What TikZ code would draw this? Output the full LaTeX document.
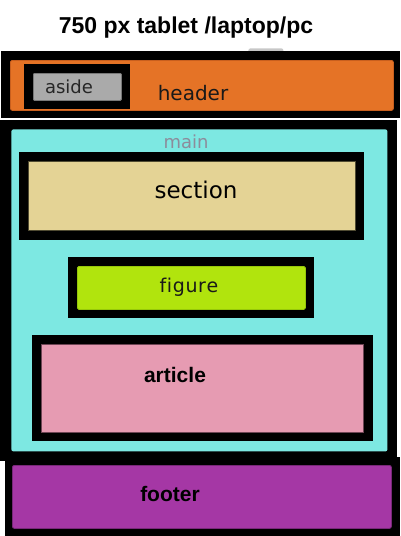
\documentclass[tikz,border=0pt]{standalone}
\usepackage{fontspec}
\setmainfont{DejaVu Sans}
\newfontfamily\arialfont{Liberation Sans}
\begin{document}
\begin{tikzpicture}[x=1pt,y=-1pt,
  blk/.style={fill=black, inner sep=0pt, anchor=north west},
  inner/.style={inner sep=0pt, anchor=north west, rounded corners=2pt, line width=0.8pt},
  lbl/.style={inner sep=0pt, anchor=base},
]
\useasboundingbox (0,0) rectangle (400,536);
% title
\node[lbl, font=\arialfont\bfseries\fontsize{23}{26}\selectfont] (title) at (186,33) {750 px tablet /laptop/pc};
% small grey tab above header
\node[inner, fill=black!22, minimum width=35pt, minimum height=5pt] (tab) at (248,48) {};
% header
\node[blk, minimum width=399pt, minimum height=67pt] (headout) at (1,51) {};
\node[inner, fill={rgb,255:red,229;green,115;blue,38}, draw={rgb,255:red,200;green,95;blue,30}, minimum width=383pt, minimum height=50pt] (head) at (10,60) {};
\node[blk, minimum width=106pt, minimum height=45pt] (asideout) at (24,64) {};
\node[inner, rounded corners=1pt, fill={rgb,255:red,170;green,170;blue,170}, draw={rgb,255:red,120;green,120;blue,120}, minimum width=88pt, minimum height=27pt] (aside) at (33,73) {};
\node[lbl, font=\fontsize{18}{20}\selectfont, text=black!85] (asidet) at (69,93) {aside};
\node[lbl, font=\fontsize{20}{22}\selectfont, text=black!90] (headt) at (193,100) {header};
% main
\node[blk, minimum width=397pt, minimum height=341pt] (mainout) at (0,120) {};
\node[inner, fill={rgb,255:red,125;green,232;blue,226}, minimum width=376pt, minimum height=322pt] (main) at (11,129) {};
\node[lbl, font=\fontsize{18}{20}\selectfont, text={rgb,255:red,140;green,140;blue,155}] (maint) at (186,148) {main};
% section
\node[blk, minimum width=345pt, minimum height=88pt] (secout) at (19,152) {};
\node[inner, rounded corners=0pt, fill={rgb,255:red,228;green,211;blue,149}, draw={rgb,255:red,80;green,75;blue,50}, minimum width=327pt, minimum height=69pt] (sec) at (28,161) {};
\node[lbl, font=\fontsize{23}{25}\selectfont] (sect) at (196,198) {section};
% figure
\node[blk, minimum width=246pt, minimum height=61pt] (figout) at (68,257) {};
\node[inner, rounded corners=1.5pt, fill={rgb,255:red,177;green,228;blue,13}, draw={rgb,255:red,150;green,200;blue,10}, minimum width=228pt, minimum height=43pt] (fig) at (77,266) {};
\node[lbl, font=\fontsize{19}{21}\selectfont, text=black!90] (figt) at (189,292) {f\kern0.6pt i\kern0.6pt g\kern0.6pt u\kern0.6pt r\kern0.6pt e};
% article
\node[blk, minimum width=341pt, minimum height=106pt] (artout) at (32,335) {};
\node[inner, rounded corners=0pt, fill={rgb,255:red,230;green,155;blue,178}, draw={rgb,255:red,110;green,70;blue,85}, minimum width=322pt, minimum height=88pt] (art) at (41,344) {};
\node[lbl, font=\arialfont\bfseries\fontsize{21}{23}\selectfont] (artt) at (175,382) {article};
% footer
\node[blk, minimum width=395pt, minimum height=79pt] (footout) at (5,457) {};
\node[inner, fill={rgb,255:red,165;green,55;blue,165}, draw={rgb,255:red,120;green,40;blue,120}, minimum width=379pt, minimum height=63pt] (foot) at (12,465) {};
\node[lbl, font=\arialfont\bfseries\fontsize{21}{23}\selectfont] (foott) at (170,501) {footer};
\end{tikzpicture}
\end{document}
